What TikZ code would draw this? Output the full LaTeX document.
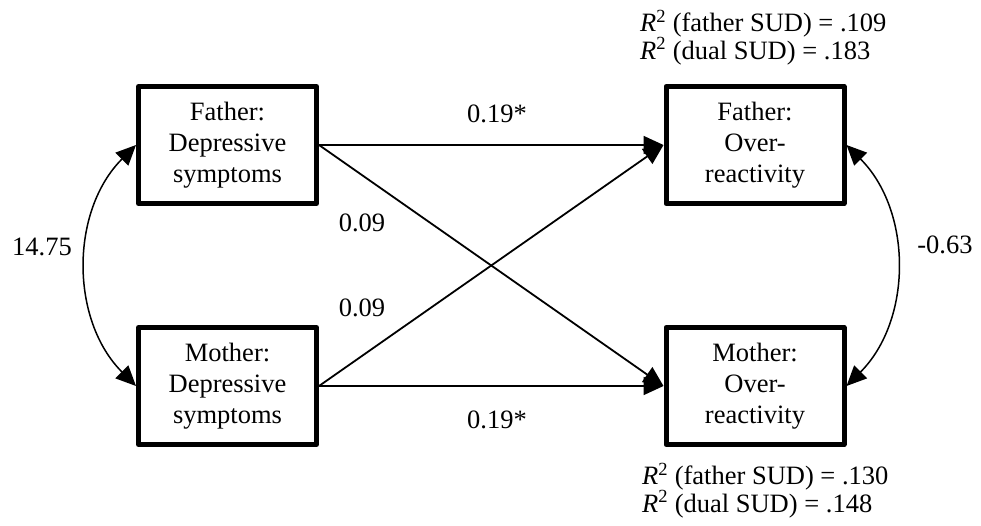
\documentclass[tikz,border=0pt]{standalone}
\usepackage{fontspec}
\setmainfont{Liberation Serif}
\usetikzlibrary{arrows.meta}
\newcommand{\rsq}{\textit{R}\textsuperscript{2}}

\begin{document}
\begin{tikzpicture}[x=1pt,y=-1pt,>={Triangle[length=20pt,width=18pt]}, line join=round,
		font=\fontsize{26.5}{31}\selectfont,
		box/.style={draw,line width=5pt,minimum width=178pt,minimum height=117pt,align=center,inner sep=0pt},
		path/.style={->,line width=1.8pt},
		cov/.style={<->,line width=1.5pt},
		rtext/.style={align=left,inner sep=0pt,anchor=north west,font=\fontsize{26.5}{27.5}\selectfont}]
	\useasboundingbox (0,0) rectangle (981,525);
	% observed variables
	\node[box] (fd) at (227.5,145) {Father:\\Depressive\\symptoms};
	\node[box] (md) at (227.5,386) {Mother:\\Depressive\\symptoms};
	\node[box] (fo) at (755,145) {Father:\\Over-\\reactivity};
	\node[box] (mo) at (755,386) {Mother:\\Over-\\reactivity};
	% paths
	\foreach \a/\b in {fd/fo,fd/mo,md/fo,md/mo}
	\draw[path] (\a.east) -- (\b.west);
	\draw[cov] (fd.west) .. controls +(-66,66) and +(-66,-66) .. (md.west);
	\draw[cov] (fo.east) .. controls +(66,66) and +(66,-66) .. (mo.east);
	% coefficients
	\node (c1) at (497,114) {0.19*};
	\node (c2) at (362,223) {0.09};
	\node (c3) at (362,308) {0.09};
	\node (c4) at (497,420) {0.19*};
	\node (c5) at (42,247) {14.75};
	\node (c6) at (945,245) {-0.63};
	\node[rtext] (r1) at (640,10) {\rsq{} (father SUD) = .109\\\rsq{} (dual SUD) = .183};
	\node[rtext] (r2) at (642,463) {\rsq{} (father SUD) = .130\\\rsq{} (dual SUD) = .148};
\end{tikzpicture}
\end{document}
